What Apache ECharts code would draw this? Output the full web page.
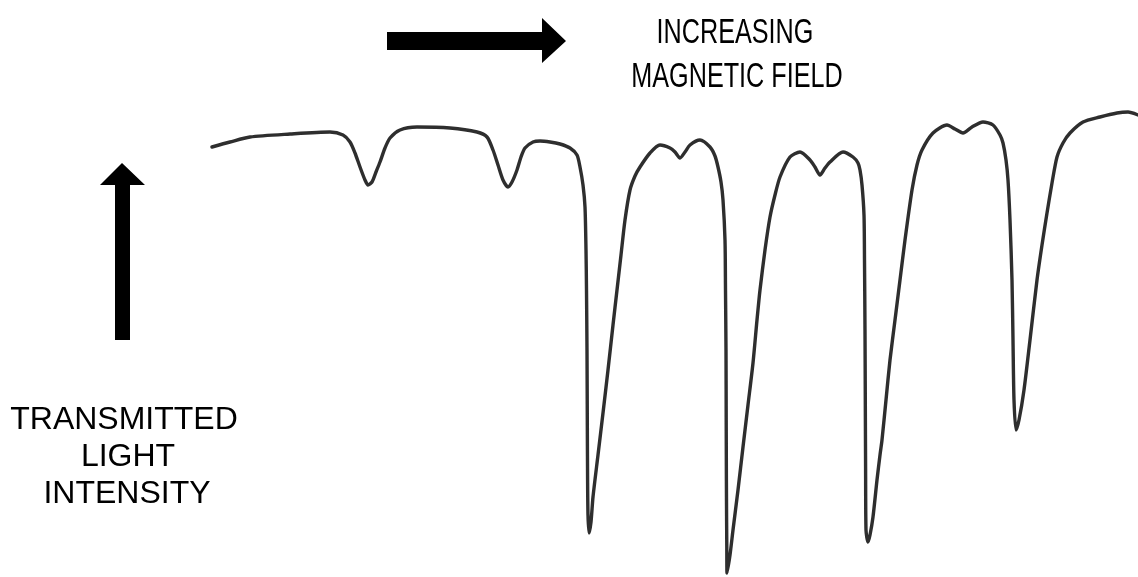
<!DOCTYPE html>
<html>
<head>
<meta charset="utf-8">
<style>
html,body{margin:0;padding:0;background:#fff;}
#chart{width:1138px;height:577px;}
</style>
<script src="https://cdn.jsdelivr.net/npm/echarts@6/dist/echarts.min.js"></script>
</head>
<body>
<div id="chart"></div>
<script>
// Magnetic field (arbitrary units, increasing to the right)
const field = [212,230,250,290,330,343,350,355,360,365,368,372,376,380,385,390,400,417,450,477,487,493,498,503,508,512,517,521,525,533,540,550,560,570,577,580,583,585,586,586.5,587,587.3,587.6,588,589,591,593,598,603,608,613,617,621,625,630,635,640,650,660,670,675,680,685,690,700,710,715,718,721,723,725,725.5,726,726.2,726.4,726.6,726.8,727,730,733,738,743,748,753,757,760,765,770,775,780,790,800,810,815,820,825,830,843,853,858,860,862,864,864.5,865,865.3,865.6,866,868,870,873,877,880,882,886,890,895,900,905,912,917,922,933,947,955,963,972,983,993,1000,1003,1006,1008,1010,1012,1013,1014,1016,1019,1024,1030,1037,1042,1047,1052,1057,1063,1070,1083,1100,1117,1128,1138];
// Absorption reading (larger = less transmitted light)
const absorption = [147,142,137,134,132,135,142,153,167,180,185,182,172,162,148,138,130,127,128,132,137,150,165,180,187,182,170,157,148,142,141,142,144,148,155,167,185,207,250,290,350,420,480,515,533,522,497,455,413,370,325,290,255,220,190,176,167,153,145,148,152,158,152,145,140,147,156,167,182,200,240,290,350,420,480,520,547,573,555,530,490,447,405,363,320,290,250,217,195,177,157,152,160,167,175,168,162,152,157,163,170,185,215,260,330,400,470,530,542,535,517,480,455,440,400,360,320,280,240,190,165,150,133,125,129,133,127,122,125,135,143,160,180,220,280,340,400,430,420,390,340,280,245,213,183,157,143,133,122,117,113,112,115];

const topLabel = ['INCREASING', 'MAGNETIC FIELD'];
const sideLabel = ['TRANSMITTED', 'LIGHT', 'INTENSITY'];

const chart = echarts.init(document.getElementById('chart'));
const data = field.map((f, i) => [f, absorption[i]]);
const topFont = '30px "Liberation Sans", Arial, sans-serif';
const sideFont = '32px "Liberation Sans", Arial, sans-serif';

chart.setOption({
  animation: false,
  backgroundColor: '#ffffff',
  grid: {left: 0, right: 0, top: 0, bottom: 0},
  xAxis: {type: 'value', min: 0, max: 1138, show: false},
  yAxis: {type: 'value', min: 0, max: 577, inverse: true, show: false},
  series: [{
    type: 'line',
    data: data,
    showSymbol: false,
    smooth: 0.25,
    lineStyle: {color: '#2e2e2e', width: 3.4, cap: 'round', join: 'round'}
  }],
  graphic: [
    // horizontal arrow
    {type: 'polygon', shape: {points: [[387,32],[542,32],[542,18],[566,41],[542,63],[542,50],[387,50]]}, style: {fill: '#000'}},
    // vertical arrow
    {type: 'polygon', shape: {points: [[115,340],[115,185],[100,185],[122,163],[145,185],[130,185],[130,340]]}, style: {fill: '#000'}},
    {type: 'text', x: 735, y: 51, scaleX: 0.84, scaleY: 1.18, style: {text: topLabel[0], fill: '#000', font: topFont, textAlign: 'center', textVerticalAlign: 'bottom'}},
    {type: 'text', x: 737, y: 95, scaleX: 0.84, scaleY: 1.18, style: {text: topLabel[1], fill: '#000', font: topFont, textAlign: 'center', textVerticalAlign: 'bottom'}},
    {type: 'text', x: 124, y: 436, style: {text: sideLabel[0], fill: '#000', font: sideFont, textAlign: 'center', textVerticalAlign: 'bottom'}},
    {type: 'text', x: 128, y: 473, style: {text: sideLabel[1], fill: '#000', font: sideFont, textAlign: 'center', textVerticalAlign: 'bottom'}},
    {type: 'text', x: 127, y: 510, style: {text: sideLabel[2], fill: '#000', font: sideFont, textAlign: 'center', textVerticalAlign: 'bottom'}}
  ]
});
</script>
</body>
</html>
